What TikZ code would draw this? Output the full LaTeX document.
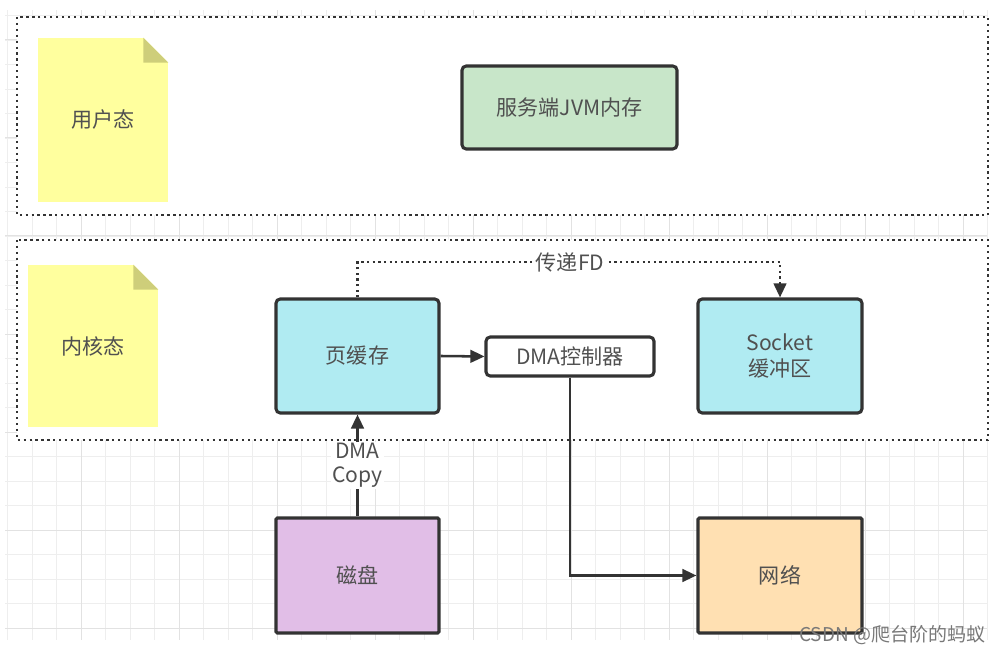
\documentclass[tikz,border=0pt]{standalone}
\usepackage{fontspec}
\setmainfont{Noto Sans CJK SC}
\usetikzlibrary{positioning,arrows.meta}

\definecolor{gridminor}{RGB}{238,238,238}
\definecolor{gridmajor}{RGB}{226,226,226}
\definecolor{boxline}{RGB}{51,51,51}
\definecolor{txtgray}{RGB}{80,80,80}
\definecolor{noteyellow}{RGB}{255,255,158}
\definecolor{notefold}{RGB}{206,206,122}
\definecolor{jvmgreen}{RGB}{200,230,201}
\definecolor{cachecyan}{RGB}{176,235,242}
\definecolor{diskpurple}{RGB}{225,190,231}
\definecolor{netorange}{RGB}{255,224,178}
\definecolor{wmgray}{RGB}{120,120,120}

\begin{document}
\begin{tikzpicture}
[font=\fontsize{15pt}{19pt}\selectfont, text=txtgray,
 box/.style={draw=boxline, line width=2.2pt, rounded corners=3pt, align=center, inner sep=0pt},
 note/.style={fill=noteyellow, minimum width=3.25cm, inner sep=0pt},
 area/.style={draw=boxline, fill=white, line width=2pt, dash pattern=on 1.6pt off 2.6pt},
 link/.style={draw=boxline, line width=1.8pt, -{Triangle[length=10pt,width=9pt]}}]

\useasboundingbox (0,0) rectangle (25.2,16.375);

% background grid
\foreach \i in {0,...,40}
	\draw[gridminor, line width=0.6pt] (0.1875+0.6125*\i,0.375) -- (0.1875+0.6125*\i,16.125);
\foreach \j in {0,...,25}
	\draw[gridminor, line width=0.6pt] (0.125,15.9875-0.6125*\j) -- (24.675,15.9875-0.6125*\j);
\foreach \i in {3,7,...,39}
	\draw[gridmajor, line width=0.7pt] (0.1875+0.6125*\i,0.375) -- (0.1875+0.6125*\i,16.125);
\foreach \j in {1,5,...,25}
	\draw[gridmajor, line width=0.7pt] (0.125,15.9875-0.6125*\j) -- (24.675,15.9875-0.6125*\j);

\draw[area] (0.425,15.95) rectangle (24.7,11.0);
\draw[area] (0.425,10.375) rectangle (24.7,5.375);


\node[note, minimum height=4.1cm] (user) at(2.575,13.375){用户态};
\fill[white] (user.north east) ++(-0.625,0.01) -- ++(0.635,0) -- ++(0,-0.635) -- cycle;
\fill[notefold] (user.north east) ++(-0.625,0) -- ++(0,-0.625) -- ++(0.625,0) -- cycle;

\node[note, minimum height=4.05cm] (kernel) at(2.325,7.725){内核态};
\fill[white] (kernel.north east) ++(-0.625,0.01) -- ++(0.635,0) -- ++(0,-0.635) -- cycle;
\fill[notefold] (kernel.north east) ++(-0.625,0) -- ++(0,-0.625) -- ++(0.625,0) -- cycle;


\node[box, fill=jvmgreen, minimum width=5.375cm, minimum height=2.075cm] (jvm) at(14.2375,13.6875){服务端JVM内存};

\node[box, fill=cachecyan, minimum width=4.075cm, minimum height=2.85cm] (page) at(8.9375,7.475){页缓存};
\node[box, fill=white, minimum width=4.2cm, minimum height=0.975cm] (dma) at(14.25,7.4625){DMA控制器};
\node[box, fill=cachecyan, minimum width=4.1cm, minimum height=2.85cm] (socket) at(19.5,7.475){Socket\\缓冲区};

\node[box, fill=diskpurple, rounded corners=1pt, minimum width=4.075cm, minimum height=2.875cm] (disk) at(8.9375,1.9875){磁盘};
\node[box, fill=netorange, rounded corners=1pt, minimum width=4.1cm, minimum height=2.875cm] (net) at(19.5,1.9875){网络};


\coordinate (fdup) at(8.9375,9.825);
\coordinate (fdover) at(19.5,9.825);
\draw[link, line width=1.6pt, dash pattern=on 1.6pt off 2.4pt] (page.north) -- (fdup) -- (fdover) -- (socket.north);
\node[fill=white, inner sep=1pt] (fd) at(14.25,9.825){传递FD};

\draw[link] (disk.north) -- (page.south)
	node[midway, fill=white, align=center, inner sep=1pt, font=\fontsize{15pt}{17pt}\selectfont] (copy) {DMA\\Copy};
\draw[link] (page.east) -- (dma.west);
\draw[link] (dma.south) |- (net.west);

\node[anchor=east, text=wmgray, font=\fontsize{13.5pt}{15pt}\selectfont] (mark) at(24.75,0.5){CSDN @爬台阶的蚂蚁};
\end{tikzpicture}
\end{document}
